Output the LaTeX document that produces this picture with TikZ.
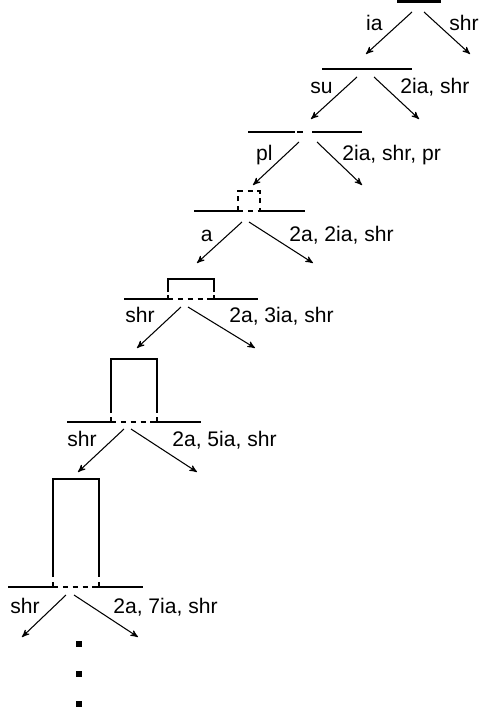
\documentclass[tikz,border=0pt]{standalone}
\usepackage{fontspec}
\setmainfont{Liberation Sans}
\usetikzlibrary{arrows,positioning}
\tikzset{x=0.02cm, y=-0.02cm, % one unit is one pixel of the picture, y runs down
        film/.style={line width=1.3pt}, % the surface lines
        gapline/.style={line width=1.3pt, dash pattern=on 3pt off 2.6pt},
        lab/.style={font=\fontsize{12}{14}\selectfont, inner sep=0pt},
        dot/.style={fill, minimum size=3.3pt, inner sep=0pt},
        every edge/.style={ % the steps
            draw,
            ->,>=stealth',
            semithick}
        }

\begin{document}
\begin{tikzpicture}
    \useasboundingbox (0,0) rectangle (479,717);

    % surfaces
    \draw[film] (397,1.5) -- (441,1.5);
    \draw[film] (322,69) -- (412,69);
    \draw[film] (248,132) -- (295,132) (297,132) -- (303,132) (312,132) -- (362,132);
    \draw[film] (194,211) -- (238,211) (260,211) -- (305,211);
    \draw[gapline] (238,211) -- (238,191) -- (260,191) -- (260,211);
    \draw[gapline] (238,211) -- (260,211);
    \draw[film] (124,299) -- (168,299) -- (168,295) (168,292) -- (168,279) -- (214,279) -- (214,292) (214,295) -- (214,299) -- (258,299);
    \draw[gapline] (168,299) -- (214,299);
    \draw[film] (67,422) -- (111,422) -- (111,417) (111,413) -- (111,359) -- (157,359) -- (157,413) (157,417) -- (157,422) -- (201,422);
    \draw[gapline] (111,422) -- (157,422);
    \draw[film] (8,587) -- (53,587) -- (53,582) (53,577) -- (53,479) -- (99,479) -- (99,577) (99,582) -- (99,587) -- (143,587);
    \draw[gapline] (53,587) -- (99,587);

    % arrow ends
    \coordinate (s1l) at (412,12);  \coordinate (e1l) at (366,54);
    \coordinate (s1r) at (424,12);  \coordinate (e1r) at (470,54);
    \coordinate (s2l) at (357,77);  \coordinate (e2l) at (311,119);
    \coordinate (s2r) at (374,77);  \coordinate (e2r) at (419,119);
    \coordinate (s3l) at (299,142); \coordinate (e3l) at (253,185);
    \coordinate (s3r) at (317,142); \coordinate (e3r) at (362,185);
    \coordinate (s4l) at (242,222); \coordinate (e4l) at (197,263);
    \coordinate (s4r) at (249,222); \coordinate (e4r) at (313,263);
    \coordinate (s5l) at (181,307); \coordinate (e5l) at (137,348);
    \coordinate (s5r) at (188,307); \coordinate (e5r) at (255,348);
    \coordinate (s6l) at (124,429); \coordinate (e6l) at (78,472);
    \coordinate (s6r) at (131,429); \coordinate (e6r) at (197,472);
    \coordinate (s7l) at (66,595);  \coordinate (e7l) at (22,637);
    \coordinate (s7r) at (74,595);  \coordinate (e7r) at (138,637);

    \draw (s1l) edge (e1l) (s1r) edge (e1r);
    \draw (s2l) edge (e2l) (s2r) edge (e2r);
    \draw (s3l) edge (e3l) (s3r) edge (e3r);
    \draw (s4l) edge (e4l) (s4r) edge (e4r);
    \draw (s5l) edge (e5l) (s5r) edge (e5r);
    \draw (s6l) edge (e6l) (s6r) edge (e6r);
    \draw (s7l) edge (e7l) (s7r) edge (e7r);

    % labels
    \node[lab, anchor=base east] (l1) at (383,30)  {ia};
    \node[lab, anchor=base west] (r1) at (449,30)  {shr};
    \node[lab, anchor=base east] (l2) at (333,93)  {su};
    \node[lab, anchor=base west] (r2) at (400,93)  {2ia, shr};
    \node[lab, anchor=base east] (l3) at (273,160) {pl};
    \node[lab, anchor=base west] (r3) at (342,160) {2ia, shr, pr};
    \node[lab, anchor=base east] (l4) at (213,241) {a};
    \node[lab, anchor=base west] (r4) at (289,241) {2a, 2ia, shr};
    \node[lab, anchor=base east] (l5) at (155,322) {shr};
    \node[lab, anchor=base west] (r5) at (229,322) {2a, 3ia, shr};
    \node[lab, anchor=base east] (l6) at (97,446)  {shr};
    \node[lab, anchor=base west] (r6) at (172,446) {2a, 5ia, shr};
    \node[lab, anchor=base east] (l7) at (40,613)  {shr};
    \node[lab, anchor=base west] (r7) at (113,613) {2a, 7ia, shr};

    % and so on
    \node[dot] (d1) at (79,644) {};
    \node[dot] (d2) at (79,674) {};
    \node[dot] (d3) at (79,704) {};
\end{tikzpicture}
\end{document}
